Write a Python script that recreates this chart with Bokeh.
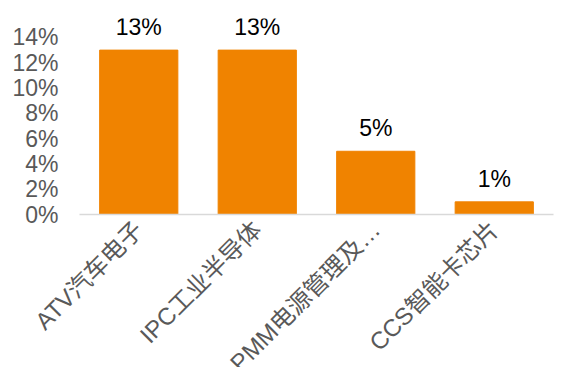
from bokeh.plotting import figure
from bokeh.models import ColumnDataSource, LabelSet, FixedTicker, PrintfTickFormatter, Range1d
from bokeh.core.properties import value
from bokeh.embed import file_html
from bokeh.resources import INLINE
import math

categories = ["ATV汽车电子", "IPC工业半导体", "PMM电源管理及…", "CCS智能卡芯片"]
values = [13, 13, 5, 1]
y_ticks = [0, 2, 4, 6, 8, 10, 12, 14]

src = ColumnDataSource(dict(cat=categories, val=values, lab=[f"{v}%" for v in values]))

p = figure(x_range=categories, y_range=Range1d(0, 15.5),
           frame_width=474, frame_height=196,
           output_backend="svg", toolbar_location=None,
           min_border_left=79, min_border_right=8, min_border_top=18, min_border_bottom=10)
p.vbar(x="cat", top="val", width=0.66, source=src, color="#F08300")

labels = LabelSet(x="cat", y="val", text="lab", source=src, text_align="center",
                  text_baseline="alphabetic", y_offset=15, text_font_size="23px",
                  text_color="#000000", text_font=value("Liberation Sans"))
p.add_layout(labels)

p.outline_line_color = None
p.xgrid.grid_line_color = None
p.ygrid.grid_line_color = None

p.yaxis.ticker = FixedTicker(ticks=y_ticks)
p.yaxis.formatter = PrintfTickFormatter(format="%d%%")
p.yaxis.axis_line_color = None
p.yaxis.major_tick_line_color = None
p.yaxis.minor_tick_line_color = None
p.yaxis.major_tick_out = 0
p.yaxis.major_label_standoff = 21
p.yaxis.major_label_text_font_size = "23px"
p.yaxis.major_label_text_color = "#595959"
p.yaxis.major_label_text_font = "Liberation Sans"

p.xaxis.axis_line_color = "#D9D9D9"
p.xaxis.axis_line_width = 1.5
p.xaxis.major_tick_line_color = None
p.xaxis.minor_tick_line_color = None
p.xaxis.major_tick_out = 0
p.xaxis.major_label_orientation = math.pi / 4
p.xaxis.major_label_standoff = 11
p.xaxis.major_label_text_font_size = "24px"
p.xaxis.major_label_text_color = "#595959"
p.xaxis.major_label_text_font = "Liberation Sans, Noto Sans CJK SC"

open("out.html", "w").write(file_html(p, INLINE))
